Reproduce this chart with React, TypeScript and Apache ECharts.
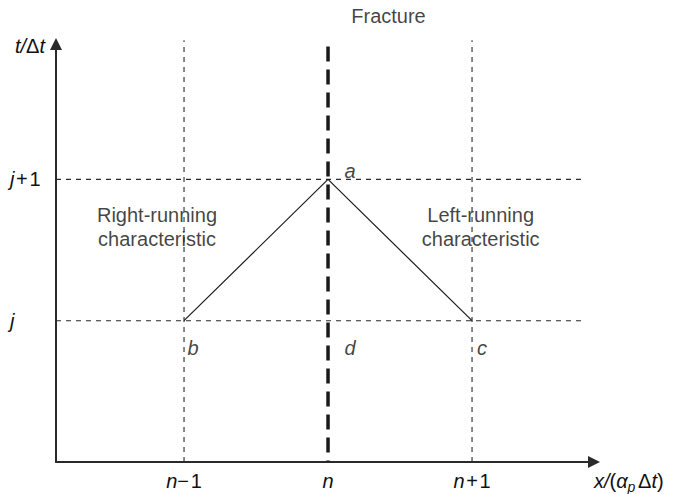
import React, { useEffect, useRef } from 'react';
import * as echarts from 'echarts';

// ---- data ----
const xTickValues = [1, 2, 3];
const xTickLabels = ['{i|n}\u2212\u200a1', '{i|n}', '{i|n}\u200a+\u200a1'];
const yTickValues = [1, 2];
const yTickLabels = ['{i|j}', '{i|j}\u200a+\u200a1'];

const gridLineXs = [1, 3]; // n-1, n+1
const gridLineYs = [1, 2]; // j, j+1
const fractureX = 2; // n
const characteristicPath = [
  [1, 1],
  [2, 2],
  [3, 1],
];
const pointNames = ['a', 'b', 'd', 'c'];
const pointXs = [2, 1, 2, 3];
const pointYs = [2, 1, 1, 1];
const textNotes = ['Right-running\ncharacteristic', 'Left-running\ncharacteristic', 'Fracture'];
const textNoteXs = [0.8125, 3.06, 2.42];
const textNoteYs = [1.665, 1.665, 3.155];

const X_MIN = 0.111;
const X_MAX = 3.847;
const Y_MIN = 0;
const Y_MAX = 2.958;
const LINE_X_END = 3.778;
const LINE_Y_TOP = 2.985;
const FRACTURE_TOP = 2.94;

const FONT = '"Liberation Sans", Arial, Helvetica, sans-serif';
const TEXT = '#111111';
const LINE = '#2a2a2a';

const pointOffsets: Record<string, [number, number]> = {
  a: [22, -8],
  b: [9, 27],
  d: [22, 27],
  c: [10, 27],
};

export default function App() {
  const ref = useRef<HTMLDivElement>(null);

  useEffect(() => {
    if (!ref.current) return;
    const chart = echarts.init(ref.current, undefined, { renderer: 'svg' });

    const italic = { fontStyle: 'italic', fontSize: 20, fontFamily: FONT, color: TEXT };

    const series: any[] = [];

    gridLineXs.forEach((x) => {
      series.push({
        type: 'line',
        data: [
          [x, Y_MIN],
          [x, LINE_Y_TOP],
        ],
        symbol: 'none',
        clip: false,
        silent: true,
        lineStyle: { color: LINE, width: 1.1, type: [5, 5] },
      });
    });
    gridLineYs.forEach((y) => {
      series.push({
        type: 'line',
        data: [
          [X_MIN, y],
          [LINE_X_END, y],
        ],
        symbol: 'none',
        clip: false,
        silent: true,
        lineStyle: { color: LINE, width: 1.1, type: [5, 5] },
      });
    });
    series.push({
      type: 'line',
      data: [
        [fractureX, FRACTURE_TOP],
        [fractureX, Y_MIN],
      ],
      symbol: 'none',
      clip: false,
      silent: true,
      lineStyle: { color: '#1a1a1a', width: 3.5, type: [15, 8] },
    });
    series.push({
      type: 'line',
      data: characteristicPath,
      symbol: 'none',
      clip: false,
      silent: true,
      lineStyle: { color: '#1a1a1a', width: 1.2, type: 'solid' },
    });
    series.push({
      type: 'scatter',
      symbolSize: 0,
      clip: false,
      silent: true,
      data: pointNames.map((n, i) => ({
        value: [pointXs[i], pointYs[i]],
        label: {
          show: true,
          formatter: n,
          position: 'inside',
          offset: pointOffsets[n],
          fontSize: 20,
          fontStyle: 'italic',
          fontFamily: FONT,
          color: TEXT,
        },
      })),
    });
    series.push({
      type: 'scatter',
      symbolSize: 0,
      clip: false,
      silent: true,
      data: textNotes.map((t, i) => ({
        value: [textNoteXs[i], textNoteYs[i]],
        label: {
          show: true,
          formatter: t,
          position: 'inside',
          align: 'center',
          verticalAlign: 'middle',
          fontSize: 20,
          lineHeight: 24,
          fontFamily: FONT,
          color: TEXT,
        },
      })),
    });

    chart.setOption({
      animation: false,
      backgroundColor: '#ffffff',
      grid: { left: 56, right: 81, top: 44, bottom: 29, containLabel: false },
      xAxis: {
        type: 'value',
        min: X_MIN,
        max: X_MAX,
        splitLine: { show: false },
        axisTick: { show: false },
        axisLine: {
          show: true,
          onZero: false,
          symbol: ['none', 'triangle'],
          symbolSize: [12, 12],
          lineStyle: { color: LINE, width: 2 },
        },
        axisLabel: {
          customValues: xTickValues,
          margin: 9,
          fontSize: 20,
          fontFamily: FONT,
          color: TEXT,
          formatter: (v: number) => {
            const idx = xTickValues.indexOf(v);
            return idx >= 0 ? xTickLabels[idx] : '';
          },
          rich: { i: italic },
        },
        name: '{i|x/}({i|α}{sub|p}\u200aΔ{i|t})',
        nameLocation: 'end',
        nameGap: 0,
        nameTextStyle: {
          fontSize: 20,
          fontFamily: FONT,
          color: TEXT,
          align: 'left',
          verticalAlign: 'top',
          padding: [6, 0, 0, 0],
          rich: {
            i: italic,
            sub: { fontStyle: 'italic', fontSize: 14, fontFamily: FONT, color: TEXT, padding: [12, 1, 0, 0] },
          },
        },
      },
      yAxis: {
        type: 'value',
        min: Y_MIN,
        max: Y_MAX,
        splitLine: { show: false },
        axisTick: { show: false },
        axisLine: {
          show: true,
          onZero: false,
          symbol: ['none', 'triangle'],
          symbolSize: [12, 12],
          lineStyle: { color: LINE, width: 2 },
        },
        axisLabel: {
          customValues: yTickValues,
          margin: 46,
          align: 'left',
          fontSize: 20,
          fontFamily: FONT,
          color: TEXT,
          formatter: (v: number) => {
            const idx = yTickValues.indexOf(v);
            return idx >= 0 ? yTickLabels[idx] : '';
          },
          rich: { i: italic },
        },
        name: '{i|t/}Δ{i|t}',
        nameLocation: 'end',
        nameGap: -2,
        nameTextStyle: {
          fontSize: 20,
          fontFamily: FONT,
          color: TEXT,
          align: 'right',
          verticalAlign: 'middle',
          padding: [0, 11, 0, 0],
          rich: { i: italic },
        },
      },
      series,
    });

    return () => chart.dispose();
  }, []);

  return (
    <div
      ref={ref}
      style={{ position: 'absolute', left: 0, top: 0, width: 675, height: 494, background: '#fff' }}
    />
  );
}
